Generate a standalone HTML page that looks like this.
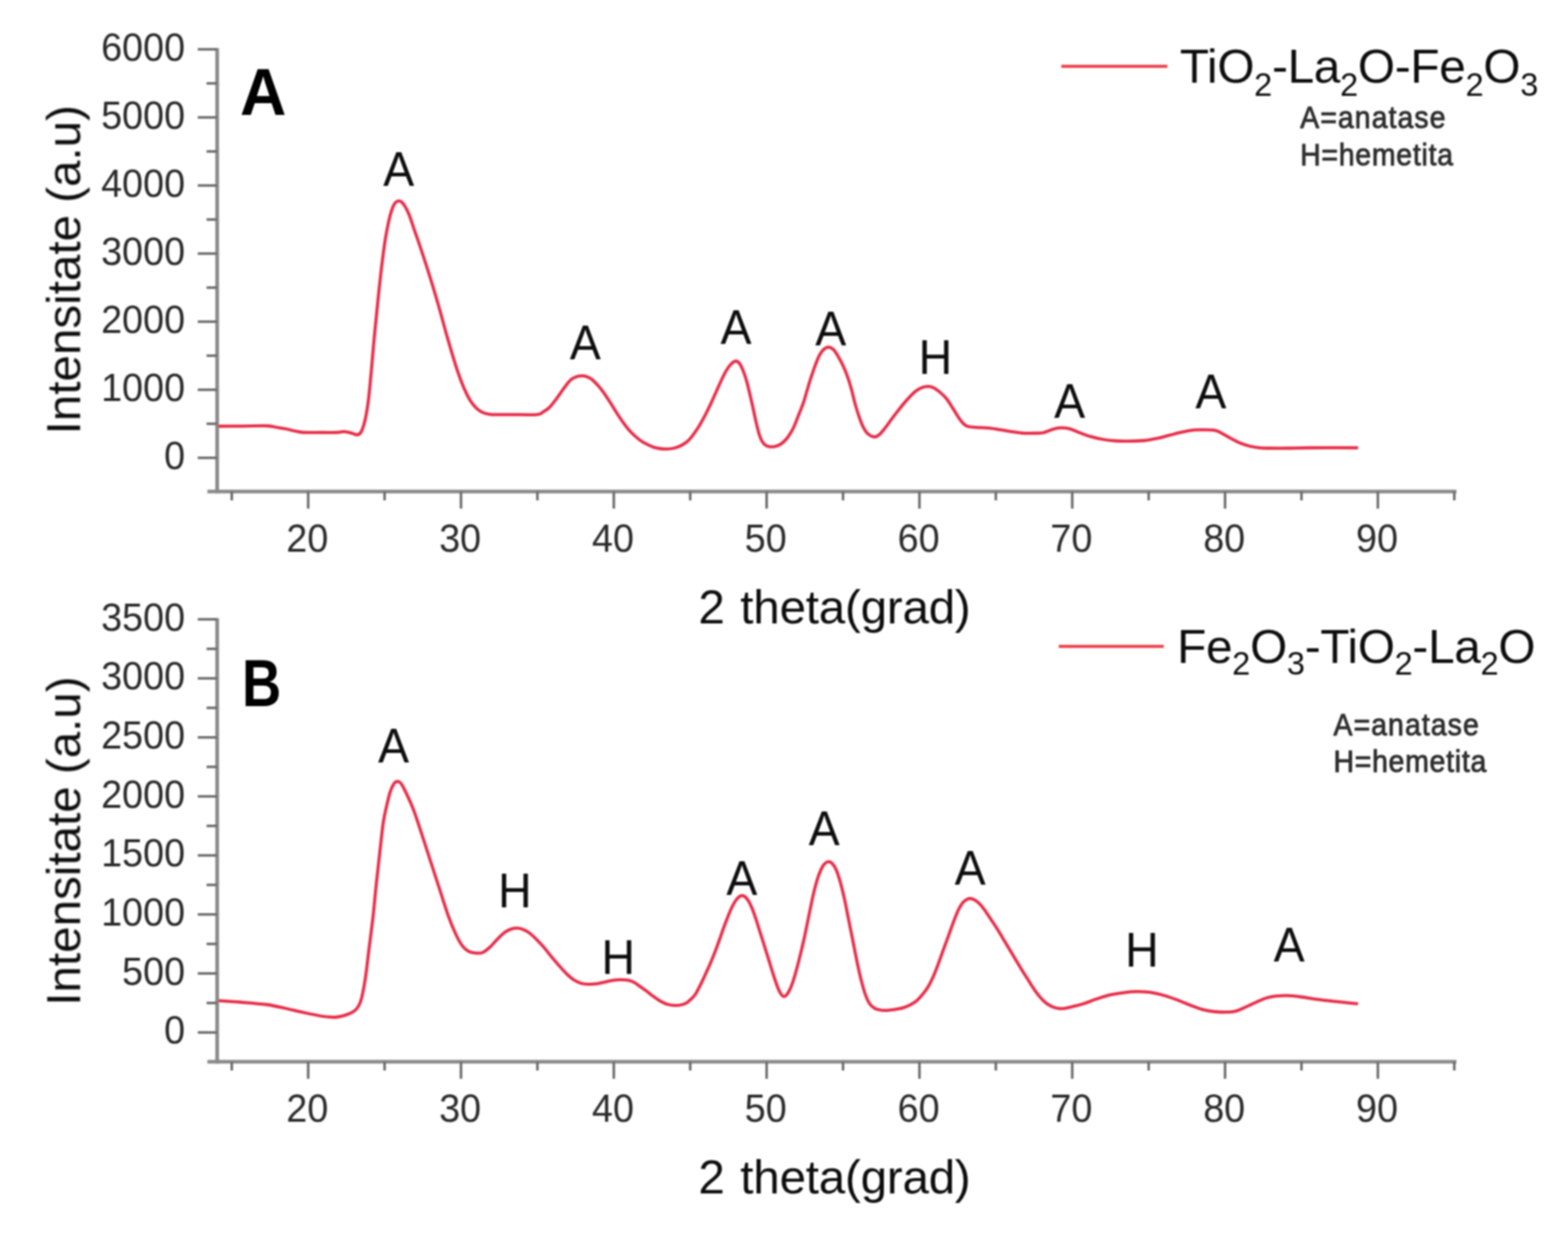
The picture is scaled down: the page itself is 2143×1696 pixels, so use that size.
<!DOCTYPE html>
<html lang="en">
<head>
<meta charset="utf-8">
<title>XRD patterns</title>
<style>
html,body{margin:0;padding:0;background:#fff;}
body{width:2143px;height:1696px;overflow:hidden;}
svg{display:block;}
text{font-family:"Liberation Sans", Arial, Helvetica, sans-serif;}
</style>
</head>
<body>
<svg width="2143" height="1696" viewBox="0 0 2143 1696" font-family='"Liberation Sans", Arial, Helvetica, sans-serif'>
<rect width="2143" height="1696" fill="#ffffff"/>
<defs><filter id="soft" x="0" y="0" width="100%" height="100%" filterUnits="userSpaceOnUse"><feGaussianBlur stdDeviation="0.9"/></filter></defs>
<g filter="url(#soft)">
<g id="chartA">
<line x1="296.8" y1="65.65" x2="296.8" y2="674.35" stroke="#8a8a8a" stroke-width="5.1"/>
<line x1="283.5" y1="671.8" x2="1990.5" y2="671.8" stroke="#8a8a8a" stroke-width="5.1"/>
<line x1="270.30" y1="67.40" x2="296.8" y2="67.40" stroke="#6c6c6c" stroke-width="3.5"/>
<text transform="translate(253 82.70) scale(0.965 1)" text-anchor="end" font-size="53.5" fill="#2c2c2c">6000</text>
<line x1="282.30" y1="113.93" x2="296.8" y2="113.93" stroke="#6c6c6c" stroke-width="3.5"/>
<line x1="270.30" y1="160.45" x2="296.8" y2="160.45" stroke="#6c6c6c" stroke-width="3.5"/>
<text transform="translate(253 175.75) scale(0.965 1)" text-anchor="end" font-size="53.5" fill="#2c2c2c">5000</text>
<line x1="282.30" y1="206.97" x2="296.8" y2="206.97" stroke="#6c6c6c" stroke-width="3.5"/>
<line x1="270.30" y1="253.50" x2="296.8" y2="253.50" stroke="#6c6c6c" stroke-width="3.5"/>
<text transform="translate(253 268.80) scale(0.965 1)" text-anchor="end" font-size="53.5" fill="#2c2c2c">4000</text>
<line x1="282.30" y1="300.02" x2="296.8" y2="300.02" stroke="#6c6c6c" stroke-width="3.5"/>
<line x1="270.30" y1="346.55" x2="296.8" y2="346.55" stroke="#6c6c6c" stroke-width="3.5"/>
<text transform="translate(253 361.85) scale(0.965 1)" text-anchor="end" font-size="53.5" fill="#2c2c2c">3000</text>
<line x1="282.30" y1="393.07" x2="296.8" y2="393.07" stroke="#6c6c6c" stroke-width="3.5"/>
<line x1="270.30" y1="439.60" x2="296.8" y2="439.60" stroke="#6c6c6c" stroke-width="3.5"/>
<text transform="translate(253 454.90) scale(0.965 1)" text-anchor="end" font-size="53.5" fill="#2c2c2c">2000</text>
<line x1="282.30" y1="486.12" x2="296.8" y2="486.12" stroke="#6c6c6c" stroke-width="3.5"/>
<line x1="270.30" y1="532.65" x2="296.8" y2="532.65" stroke="#6c6c6c" stroke-width="3.5"/>
<text transform="translate(253 547.95) scale(0.965 1)" text-anchor="end" font-size="53.5" fill="#2c2c2c">1000</text>
<line x1="282.30" y1="579.17" x2="296.8" y2="579.17" stroke="#6c6c6c" stroke-width="3.5"/>
<line x1="270.30" y1="625.70" x2="296.8" y2="625.70" stroke="#6c6c6c" stroke-width="3.5"/>
<text transform="translate(253 641.00) scale(0.965 1)" text-anchor="end" font-size="53.5" fill="#2c2c2c">0</text>
<line x1="316.77" y1="671.8" x2="316.77" y2="683.80" stroke="#6c6c6c" stroke-width="3.5"/>
<line x1="421.20" y1="671.8" x2="421.20" y2="695.10" stroke="#6c6c6c" stroke-width="3.5"/>
<text transform="translate(420.00 754.00) scale(0.965 1)" text-anchor="middle" font-size="53.5" fill="#2c2c2c">20</text>
<line x1="525.62" y1="671.8" x2="525.62" y2="683.80" stroke="#6c6c6c" stroke-width="3.5"/>
<line x1="630.05" y1="671.8" x2="630.05" y2="695.10" stroke="#6c6c6c" stroke-width="3.5"/>
<text transform="translate(628.85 754.00) scale(0.965 1)" text-anchor="middle" font-size="53.5" fill="#2c2c2c">30</text>
<line x1="734.47" y1="671.8" x2="734.47" y2="683.80" stroke="#6c6c6c" stroke-width="3.5"/>
<line x1="838.90" y1="671.8" x2="838.90" y2="695.10" stroke="#6c6c6c" stroke-width="3.5"/>
<text transform="translate(837.70 754.00) scale(0.965 1)" text-anchor="middle" font-size="53.5" fill="#2c2c2c">40</text>
<line x1="943.33" y1="671.8" x2="943.33" y2="683.80" stroke="#6c6c6c" stroke-width="3.5"/>
<line x1="1047.75" y1="671.8" x2="1047.75" y2="695.10" stroke="#6c6c6c" stroke-width="3.5"/>
<text transform="translate(1046.55 754.00) scale(0.965 1)" text-anchor="middle" font-size="53.5" fill="#2c2c2c">50</text>
<line x1="1152.17" y1="671.8" x2="1152.17" y2="683.80" stroke="#6c6c6c" stroke-width="3.5"/>
<line x1="1256.60" y1="671.8" x2="1256.60" y2="695.10" stroke="#6c6c6c" stroke-width="3.5"/>
<text transform="translate(1255.40 754.00) scale(0.965 1)" text-anchor="middle" font-size="53.5" fill="#2c2c2c">60</text>
<line x1="1361.02" y1="671.8" x2="1361.02" y2="683.80" stroke="#6c6c6c" stroke-width="3.5"/>
<line x1="1465.45" y1="671.8" x2="1465.45" y2="695.10" stroke="#6c6c6c" stroke-width="3.5"/>
<text transform="translate(1464.25 754.00) scale(0.965 1)" text-anchor="middle" font-size="53.5" fill="#2c2c2c">70</text>
<line x1="1569.88" y1="671.8" x2="1569.88" y2="683.80" stroke="#6c6c6c" stroke-width="3.5"/>
<line x1="1674.30" y1="671.8" x2="1674.30" y2="695.10" stroke="#6c6c6c" stroke-width="3.5"/>
<text transform="translate(1673.10 754.00) scale(0.965 1)" text-anchor="middle" font-size="53.5" fill="#2c2c2c">80</text>
<line x1="1778.72" y1="671.8" x2="1778.72" y2="683.80" stroke="#6c6c6c" stroke-width="3.5"/>
<line x1="1883.15" y1="671.8" x2="1883.15" y2="695.10" stroke="#6c6c6c" stroke-width="3.5"/>
<text transform="translate(1881.95 754.00) scale(0.965 1)" text-anchor="middle" font-size="53.5" fill="#2c2c2c">90</text>
<line x1="1987.58" y1="671.8" x2="1987.58" y2="683.80" stroke="#6c6c6c" stroke-width="3.5"/>
<text transform="translate(109.5 593.7) rotate(-90)" text-anchor="start" font-size="65" fill="#111111"><tspan>Intensitate</tspan><tspan dx="-1.5"> (a.u)</tspan></text>
<text x="1140.5" y="851.5" text-anchor="middle" font-size="65" fill="#111111" word-spacing="3.6" letter-spacing="-0.3">2 theta(grad)</text>
<path d="M298.50 582.50 C303.75 582.47 318.92 582.38 330.00 582.30 C341.08 582.22 357.00 581.72 365.00 582.00 C373.00 582.28 373.83 583.33 378.00 584.00 C382.17 584.67 385.83 585.17 390.00 586.00 C394.17 586.83 398.83 588.17 403.00 589.00 C407.17 589.83 408.83 590.67 415.00 591.00 C421.17 591.33 432.50 591.00 440.00 591.00 C447.50 591.00 454.90 591.20 460.00 591.00 C465.10 590.80 467.07 589.62 470.60 589.80 C474.13 589.98 478.20 591.37 481.20 592.10 C484.20 592.83 486.47 594.63 488.60 594.20 C490.73 593.77 492.22 593.12 494.00 589.50 C495.78 585.88 497.72 579.57 499.30 572.50 C500.88 565.43 502.10 558.42 503.50 547.10 C504.90 535.78 506.38 518.75 507.70 504.60 C509.02 490.45 510.08 476.33 511.40 462.20 C512.72 448.07 514.15 433.95 515.60 419.80 C517.05 405.65 518.47 391.45 520.10 377.30 C521.73 363.15 523.92 345.50 525.40 334.90 C526.88 324.30 527.70 320.42 529.00 313.70 C530.30 306.98 531.62 300.27 533.20 294.60 C534.78 288.93 536.55 283.03 538.50 279.70 C540.45 276.37 542.78 274.78 544.90 274.60 C547.02 274.42 548.90 275.63 551.20 278.60 C553.50 281.57 556.22 286.55 558.70 292.40 C561.18 298.25 563.63 306.62 566.10 313.70 C568.57 320.78 569.97 324.30 573.50 334.90 C577.03 345.50 582.88 363.15 587.30 377.30 C591.72 391.45 595.93 405.65 600.00 419.80 C604.07 433.95 607.62 448.07 611.70 462.20 C615.78 476.33 620.78 493.28 624.50 504.60 C628.22 515.92 631.00 523.02 634.00 530.10 C637.00 537.18 639.67 542.50 642.50 547.10 C645.33 551.70 648.17 554.95 651.00 557.70 C653.83 560.45 656.32 562.15 659.50 563.60 C662.68 565.05 666.57 565.88 670.10 566.40 C673.63 566.92 675.72 566.67 680.70 566.70 C685.68 566.73 691.18 566.62 700.00 566.60 C708.82 566.58 726.60 567.17 733.60 566.60 C740.60 566.03 739.20 564.73 742.00 563.20 C744.80 561.67 747.60 560.05 750.40 557.40 C753.20 554.75 756.00 550.95 758.80 547.30 C761.60 543.65 764.68 539.00 767.20 535.50 C769.72 532.00 771.67 529.10 773.90 526.30 C776.13 523.50 778.35 520.58 780.60 518.70 C782.85 516.82 784.88 515.83 787.40 515.00 C789.92 514.17 793.18 513.70 795.70 513.70 C798.22 513.70 800.25 514.17 802.50 515.00 C804.75 515.83 806.68 516.68 809.20 518.70 C811.72 520.72 815.08 524.30 817.60 527.10 C820.12 529.90 821.50 531.58 824.30 535.50 C827.10 539.42 831.32 545.83 834.40 550.60 C837.48 555.37 840.00 559.75 842.80 564.10 C845.60 568.45 848.40 572.78 851.20 576.70 C854.00 580.62 856.80 584.38 859.60 587.60 C862.40 590.82 865.20 593.48 868.00 596.00 C870.80 598.52 873.60 600.80 876.40 602.70 C879.20 604.60 882.00 606.00 884.80 607.40 C887.60 608.80 890.40 610.17 893.20 611.10 C896.00 612.03 898.80 612.58 901.60 613.00 C904.40 613.42 907.20 613.60 910.00 613.60 C912.80 613.60 915.60 613.47 918.40 613.00 C921.20 612.53 924.00 611.90 926.80 610.80 C929.60 609.70 932.68 608.03 935.20 606.40 C937.72 604.77 939.67 603.30 941.90 601.00 C944.13 598.70 946.37 595.68 948.60 592.60 C950.83 589.52 952.78 586.70 955.30 582.50 C957.82 578.30 961.18 572.15 963.70 567.40 C966.22 562.65 968.15 558.75 970.40 554.00 C972.65 549.25 974.67 544.50 977.20 538.90 C979.73 533.30 983.08 525.72 985.60 520.40 C988.12 515.08 990.07 510.78 992.30 507.00 C994.53 503.22 996.77 499.95 999.00 497.70 C1001.23 495.45 1003.73 493.63 1005.70 493.50 C1007.67 493.37 1009.12 494.65 1010.80 496.90 C1012.48 499.15 1014.13 502.80 1015.80 507.00 C1017.47 511.20 1018.83 514.83 1020.80 522.10 C1022.77 529.37 1025.35 540.80 1027.60 550.60 C1029.85 560.40 1032.35 572.92 1034.30 580.90 C1036.25 588.88 1037.62 594.17 1039.30 598.50 C1040.98 602.83 1042.45 604.93 1044.40 606.90 C1046.35 608.87 1048.67 609.73 1051.00 610.30 C1053.33 610.87 1055.77 610.83 1058.40 610.30 C1061.03 609.77 1064.00 608.90 1066.80 607.10 C1069.60 605.30 1072.68 602.45 1075.20 599.50 C1077.72 596.55 1080.08 592.48 1081.90 589.40 C1083.72 586.32 1084.42 584.92 1086.10 581.00 C1087.78 577.08 1090.03 570.93 1092.00 565.90 C1093.97 560.87 1096.08 556.12 1097.90 550.80 C1099.72 545.48 1101.22 539.60 1102.90 534.00 C1104.58 528.40 1106.18 522.80 1108.00 517.20 C1109.82 511.60 1111.85 505.58 1113.80 500.40 C1115.75 495.22 1117.73 489.88 1119.70 486.10 C1121.67 482.32 1123.50 479.65 1125.60 477.70 C1127.70 475.75 1130.07 474.40 1132.30 474.40 C1134.53 474.40 1136.90 475.75 1139.00 477.70 C1141.10 479.65 1142.65 482.32 1144.90 486.10 C1147.15 489.88 1150.12 495.22 1152.50 500.40 C1154.88 505.58 1157.25 511.60 1159.20 517.20 C1161.15 522.80 1162.67 528.40 1164.20 534.00 C1165.73 539.60 1166.85 545.20 1168.40 550.80 C1169.95 556.40 1171.68 562.28 1173.50 567.60 C1175.32 572.92 1177.20 578.50 1179.30 582.70 C1181.40 586.90 1183.57 590.42 1186.10 592.80 C1188.63 595.18 1191.98 596.72 1194.50 597.00 C1197.02 597.28 1198.68 596.50 1201.20 594.50 C1203.72 592.50 1206.80 588.50 1209.60 585.00 C1212.40 581.50 1215.20 577.25 1218.00 573.50 C1220.80 569.75 1223.60 566.08 1226.40 562.50 C1229.20 558.92 1232.00 555.33 1234.80 552.00 C1237.60 548.67 1240.40 545.42 1243.20 542.50 C1246.00 539.58 1248.80 536.63 1251.60 534.50 C1254.40 532.37 1257.20 530.77 1260.00 529.70 C1262.80 528.63 1265.60 528.00 1268.40 528.10 C1271.20 528.20 1274.00 528.90 1276.80 530.30 C1279.60 531.70 1282.40 534.07 1285.20 536.50 C1288.00 538.93 1290.80 541.40 1293.60 544.90 C1296.40 548.40 1299.20 553.17 1302.00 557.50 C1304.80 561.83 1307.88 567.27 1310.40 570.90 C1312.92 574.53 1314.87 577.28 1317.10 579.30 C1319.33 581.32 1320.72 582.20 1323.80 583.00 C1326.88 583.80 1330.83 583.73 1335.60 584.10 C1340.37 584.47 1346.80 584.60 1352.40 585.20 C1358.00 585.80 1363.60 586.85 1369.20 587.70 C1374.80 588.55 1380.87 589.57 1386.00 590.30 C1391.13 591.03 1395.67 591.82 1400.00 592.10 C1404.33 592.38 1407.80 592.10 1412.00 592.00 C1416.20 591.90 1421.03 592.27 1425.20 591.50 C1429.37 590.73 1433.37 588.52 1437.00 587.40 C1440.63 586.28 1443.08 585.08 1447.00 584.80 C1450.92 584.52 1456.02 584.72 1460.50 585.70 C1464.98 586.68 1468.87 588.88 1473.90 590.70 C1478.93 592.52 1485.10 594.97 1490.70 596.60 C1496.30 598.23 1501.90 599.52 1507.50 600.50 C1513.10 601.48 1518.42 602.12 1524.30 602.50 C1530.18 602.88 1536.08 602.88 1542.80 602.80 C1549.52 602.72 1558.17 602.62 1564.60 602.00 C1571.03 601.38 1575.80 600.28 1581.40 599.10 C1587.00 597.92 1592.60 596.30 1598.20 594.90 C1603.80 593.50 1609.40 591.90 1615.00 590.70 C1620.60 589.50 1626.75 588.25 1631.80 587.70 C1636.85 587.15 1640.53 587.32 1645.30 587.40 C1650.07 587.48 1656.48 587.50 1660.40 588.20 C1664.32 588.90 1665.17 589.78 1668.80 591.60 C1672.43 593.42 1677.73 596.73 1682.20 599.10 C1686.67 601.47 1691.12 603.98 1695.60 605.80 C1700.08 607.62 1704.62 608.93 1709.10 610.00 C1713.58 611.07 1718.02 611.78 1722.50 612.20 C1726.98 612.62 1729.75 612.45 1736.00 612.50 C1742.25 612.55 1751.00 612.58 1760.00 612.50 C1769.00 612.42 1774.00 612.08 1790.00 612.00 C1806.00 611.92 1845.00 612.00 1856.00 612.00" fill="none" stroke="#e72e49" stroke-width="4.3" stroke-linejoin="round" stroke-linecap="butt"/>
<text transform="translate(359.7 156.6) scale(0.975 1)" text-anchor="middle" font-size="90" font-weight="bold" fill="#000">A</text>
<text transform="translate(545 254) scale(1 1.05)" text-anchor="middle" font-size="63.5" fill="#0a0a0a">A</text>
<text transform="translate(800 491) scale(1 1.05)" text-anchor="middle" font-size="63.5" fill="#0a0a0a">A</text>
<text transform="translate(1006 470) scale(1 1.05)" text-anchor="middle" font-size="63.5" fill="#0a0a0a">A</text>
<text transform="translate(1135.5 472) scale(1 1.05)" text-anchor="middle" font-size="63.5" fill="#0a0a0a">A</text>
<text transform="translate(1278.5 511) scale(1 1.05)" text-anchor="middle" font-size="63.5" fill="#0a0a0a">H</text>
<text transform="translate(1462 571) scale(1 1.05)" text-anchor="middle" font-size="63.5" fill="#0a0a0a">A</text>
<text transform="translate(1655 557.5) scale(1 1.05)" text-anchor="middle" font-size="63.5" fill="#0a0a0a">A</text>
<line x1="1450.5" y1="90.6" x2="1595.5" y2="90.6" stroke="#ea4048" stroke-width="4.2"/>
<text x="1612.5" y="112.5" font-size="65.4" fill="#111111" letter-spacing="-0.45"><tspan>TiO</tspan><tspan dy="18.6" font-size="44.5">2</tspan><tspan dy="-18.6">-La</tspan><tspan dy="18.6" font-size="44.5">2</tspan><tspan dy="-18.6">O-Fe</tspan><tspan dy="18.6" font-size="44.5">2</tspan><tspan dy="-18.6">O</tspan><tspan dy="18.6" font-size="44.5">3</tspan></text>
<text transform="translate(1777 174.8) scale(0.925 1)" font-size="42" fill="#2e2e2e" stroke="#2e2e2e" stroke-width="1.2" stroke-linejoin="round" letter-spacing="1.6">A=anatase</text>
<text transform="translate(1777 226.0) scale(0.925 1)" font-size="42" fill="#2e2e2e" stroke="#2e2e2e" stroke-width="1.2" stroke-linejoin="round" letter-spacing="1.1">H=hemetita</text>
</g>
<g id="chartB">
<line x1="296.8" y1="844.65" x2="296.8" y2="1453.55" stroke="#8a8a8a" stroke-width="5.1"/>
<line x1="283.5" y1="1451.0" x2="1990.5" y2="1451.0" stroke="#8a8a8a" stroke-width="5.1"/>
<line x1="270.30" y1="846.40" x2="296.8" y2="846.40" stroke="#6c6c6c" stroke-width="3.5"/>
<text transform="translate(253 861.70) scale(0.965 1)" text-anchor="end" font-size="53.5" fill="#2c2c2c">3500</text>
<line x1="282.30" y1="886.73" x2="296.8" y2="886.73" stroke="#6c6c6c" stroke-width="3.5"/>
<line x1="270.30" y1="927.06" x2="296.8" y2="927.06" stroke="#6c6c6c" stroke-width="3.5"/>
<text transform="translate(253 942.36) scale(0.965 1)" text-anchor="end" font-size="53.5" fill="#2c2c2c">3000</text>
<line x1="282.30" y1="967.39" x2="296.8" y2="967.39" stroke="#6c6c6c" stroke-width="3.5"/>
<line x1="270.30" y1="1007.72" x2="296.8" y2="1007.72" stroke="#6c6c6c" stroke-width="3.5"/>
<text transform="translate(253 1023.02) scale(0.965 1)" text-anchor="end" font-size="53.5" fill="#2c2c2c">2500</text>
<line x1="282.30" y1="1048.05" x2="296.8" y2="1048.05" stroke="#6c6c6c" stroke-width="3.5"/>
<line x1="270.30" y1="1088.38" x2="296.8" y2="1088.38" stroke="#6c6c6c" stroke-width="3.5"/>
<text transform="translate(253 1103.68) scale(0.965 1)" text-anchor="end" font-size="53.5" fill="#2c2c2c">2000</text>
<line x1="282.30" y1="1128.71" x2="296.8" y2="1128.71" stroke="#6c6c6c" stroke-width="3.5"/>
<line x1="270.30" y1="1169.04" x2="296.8" y2="1169.04" stroke="#6c6c6c" stroke-width="3.5"/>
<text transform="translate(253 1184.34) scale(0.965 1)" text-anchor="end" font-size="53.5" fill="#2c2c2c">1500</text>
<line x1="282.30" y1="1209.37" x2="296.8" y2="1209.37" stroke="#6c6c6c" stroke-width="3.5"/>
<line x1="270.30" y1="1249.70" x2="296.8" y2="1249.70" stroke="#6c6c6c" stroke-width="3.5"/>
<text transform="translate(253 1265.00) scale(0.965 1)" text-anchor="end" font-size="53.5" fill="#2c2c2c">1000</text>
<line x1="282.30" y1="1290.03" x2="296.8" y2="1290.03" stroke="#6c6c6c" stroke-width="3.5"/>
<line x1="270.30" y1="1330.36" x2="296.8" y2="1330.36" stroke="#6c6c6c" stroke-width="3.5"/>
<text transform="translate(253 1345.66) scale(0.965 1)" text-anchor="end" font-size="53.5" fill="#2c2c2c">500</text>
<line x1="282.30" y1="1370.69" x2="296.8" y2="1370.69" stroke="#6c6c6c" stroke-width="3.5"/>
<line x1="270.30" y1="1411.02" x2="296.8" y2="1411.02" stroke="#6c6c6c" stroke-width="3.5"/>
<text transform="translate(253 1426.32) scale(0.965 1)" text-anchor="end" font-size="53.5" fill="#2c2c2c">0</text>
<line x1="316.77" y1="1451.0" x2="316.77" y2="1463.00" stroke="#6c6c6c" stroke-width="3.5"/>
<line x1="421.20" y1="1451.0" x2="421.20" y2="1474.30" stroke="#6c6c6c" stroke-width="3.5"/>
<text transform="translate(420.00 1532.60) scale(0.965 1)" text-anchor="middle" font-size="53.5" fill="#2c2c2c">20</text>
<line x1="525.62" y1="1451.0" x2="525.62" y2="1463.00" stroke="#6c6c6c" stroke-width="3.5"/>
<line x1="630.05" y1="1451.0" x2="630.05" y2="1474.30" stroke="#6c6c6c" stroke-width="3.5"/>
<text transform="translate(628.85 1532.60) scale(0.965 1)" text-anchor="middle" font-size="53.5" fill="#2c2c2c">30</text>
<line x1="734.47" y1="1451.0" x2="734.47" y2="1463.00" stroke="#6c6c6c" stroke-width="3.5"/>
<line x1="838.90" y1="1451.0" x2="838.90" y2="1474.30" stroke="#6c6c6c" stroke-width="3.5"/>
<text transform="translate(837.70 1532.60) scale(0.965 1)" text-anchor="middle" font-size="53.5" fill="#2c2c2c">40</text>
<line x1="943.33" y1="1451.0" x2="943.33" y2="1463.00" stroke="#6c6c6c" stroke-width="3.5"/>
<line x1="1047.75" y1="1451.0" x2="1047.75" y2="1474.30" stroke="#6c6c6c" stroke-width="3.5"/>
<text transform="translate(1046.55 1532.60) scale(0.965 1)" text-anchor="middle" font-size="53.5" fill="#2c2c2c">50</text>
<line x1="1152.17" y1="1451.0" x2="1152.17" y2="1463.00" stroke="#6c6c6c" stroke-width="3.5"/>
<line x1="1256.60" y1="1451.0" x2="1256.60" y2="1474.30" stroke="#6c6c6c" stroke-width="3.5"/>
<text transform="translate(1255.40 1532.60) scale(0.965 1)" text-anchor="middle" font-size="53.5" fill="#2c2c2c">60</text>
<line x1="1361.02" y1="1451.0" x2="1361.02" y2="1463.00" stroke="#6c6c6c" stroke-width="3.5"/>
<line x1="1465.45" y1="1451.0" x2="1465.45" y2="1474.30" stroke="#6c6c6c" stroke-width="3.5"/>
<text transform="translate(1464.25 1532.60) scale(0.965 1)" text-anchor="middle" font-size="53.5" fill="#2c2c2c">70</text>
<line x1="1569.88" y1="1451.0" x2="1569.88" y2="1463.00" stroke="#6c6c6c" stroke-width="3.5"/>
<line x1="1674.30" y1="1451.0" x2="1674.30" y2="1474.30" stroke="#6c6c6c" stroke-width="3.5"/>
<text transform="translate(1673.10 1532.60) scale(0.965 1)" text-anchor="middle" font-size="53.5" fill="#2c2c2c">80</text>
<line x1="1778.72" y1="1451.0" x2="1778.72" y2="1463.00" stroke="#6c6c6c" stroke-width="3.5"/>
<line x1="1883.15" y1="1451.0" x2="1883.15" y2="1474.30" stroke="#6c6c6c" stroke-width="3.5"/>
<text transform="translate(1881.95 1532.60) scale(0.965 1)" text-anchor="middle" font-size="53.5" fill="#2c2c2c">90</text>
<line x1="1987.58" y1="1451.0" x2="1987.58" y2="1463.00" stroke="#6c6c6c" stroke-width="3.5"/>
<text transform="translate(109.5 1374.5) rotate(-90)" text-anchor="start" font-size="65" fill="#111111"><tspan>Intensitate</tspan><tspan dx="-1.5"> (a.u)</tspan></text>
<text x="1140.5" y="1631" text-anchor="middle" font-size="65" fill="#111111" word-spacing="3.6" letter-spacing="-0.3">2 theta(grad)</text>
<path d="M298.50 1367.50 C303.33 1367.83 316.42 1368.58 327.50 1369.50 C338.58 1370.42 354.58 1371.58 365.00 1373.00 C375.42 1374.42 381.67 1376.21 390.00 1378.00 C398.33 1379.79 406.67 1381.96 415.00 1383.75 C423.33 1385.54 433.75 1387.71 440.00 1388.75 C446.25 1389.79 449.17 1389.79 452.50 1390.00 C455.83 1390.21 456.63 1390.48 460.00 1390.00 C463.37 1389.52 468.80 1388.38 472.70 1387.10 C476.60 1385.82 480.57 1384.23 483.40 1382.30 C486.23 1380.37 487.93 1378.42 489.70 1375.50 C491.47 1372.58 492.40 1371.18 494.00 1364.80 C495.60 1358.42 497.53 1348.87 499.30 1337.20 C501.07 1325.53 502.83 1308.95 504.60 1294.80 C506.37 1280.65 508.32 1266.45 509.90 1252.30 C511.48 1238.15 512.62 1224.05 514.10 1209.90 C515.58 1195.75 517.20 1181.57 518.80 1167.40 C520.40 1153.23 522.18 1135.52 523.70 1124.90 C525.22 1114.28 526.32 1110.77 527.90 1103.70 C529.48 1096.63 531.42 1087.98 533.20 1082.50 C534.98 1077.02 536.93 1073.25 538.60 1070.80 C540.27 1068.35 541.62 1067.80 543.20 1067.80 C544.78 1067.80 546.22 1068.35 548.10 1070.80 C549.98 1073.25 551.85 1077.02 554.50 1082.50 C557.15 1087.98 561.17 1096.63 564.00 1103.70 C566.83 1110.77 567.95 1114.28 571.50 1124.90 C575.05 1135.52 580.70 1153.23 585.30 1167.40 C589.90 1181.57 594.50 1195.75 599.10 1209.90 C603.70 1224.05 608.83 1240.98 612.90 1252.30 C616.97 1263.62 620.32 1271.07 623.50 1277.80 C626.68 1284.53 629.17 1288.98 632.00 1292.70 C634.83 1296.42 637.32 1298.45 640.50 1300.10 C643.68 1301.75 647.85 1302.35 651.10 1302.60 C654.35 1302.85 656.82 1303.05 660.00 1301.60 C663.18 1300.15 666.82 1297.00 670.20 1293.90 C673.58 1290.80 676.93 1286.35 680.30 1283.00 C683.67 1279.65 687.32 1276.03 690.40 1273.80 C693.48 1271.57 696.00 1270.50 698.80 1269.60 C701.60 1268.70 704.40 1268.27 707.20 1268.40 C710.00 1268.53 712.80 1269.23 715.60 1270.40 C718.40 1271.57 720.92 1273.02 724.00 1275.40 C727.08 1277.78 730.73 1281.33 734.10 1284.70 C737.47 1288.07 740.85 1291.68 744.20 1295.60 C747.55 1299.52 750.85 1304.15 754.20 1308.20 C757.55 1312.25 760.93 1316.12 764.30 1319.90 C767.67 1323.68 771.03 1327.67 774.40 1330.90 C777.77 1334.13 781.13 1337.12 784.50 1339.30 C787.87 1341.48 791.25 1343.03 794.60 1344.00 C797.95 1344.97 800.97 1345.05 804.60 1345.10 C808.23 1345.15 812.48 1344.85 816.40 1344.30 C820.32 1343.75 824.47 1342.58 828.10 1341.80 C831.73 1341.02 834.83 1340.10 838.20 1339.60 C841.57 1339.10 844.93 1338.80 848.30 1338.80 C851.67 1338.80 855.32 1338.97 858.40 1339.60 C861.48 1340.23 864.00 1341.12 866.80 1342.60 C869.60 1344.08 872.40 1346.53 875.20 1348.50 C878.00 1350.47 880.80 1352.30 883.60 1354.40 C886.40 1356.50 888.93 1358.87 892.00 1361.10 C895.07 1363.33 898.65 1365.90 902.00 1367.80 C905.35 1369.70 908.45 1371.43 912.10 1372.50 C915.75 1373.57 920.25 1374.20 923.90 1374.20 C927.55 1374.20 931.32 1373.30 934.00 1372.50 C936.68 1371.70 938.17 1370.67 940.00 1369.40 C941.83 1368.13 943.33 1366.57 945.00 1364.90 C946.67 1363.23 948.33 1361.82 950.00 1359.40 C951.67 1356.98 953.32 1353.58 955.00 1350.40 C956.68 1347.22 958.42 1343.82 960.10 1340.30 C961.78 1336.78 963.43 1332.97 965.10 1329.30 C966.77 1325.63 968.43 1322.15 970.10 1318.30 C971.77 1314.45 973.43 1310.38 975.10 1306.20 C976.77 1302.02 978.43 1297.70 980.10 1293.20 C981.77 1288.70 983.43 1283.88 985.10 1279.20 C986.77 1274.52 988.43 1269.62 990.10 1265.10 C991.77 1260.58 993.42 1256.27 995.10 1252.10 C996.78 1247.93 998.52 1243.60 1000.20 1240.10 C1001.88 1236.60 1003.53 1233.53 1005.20 1231.10 C1006.87 1228.67 1008.70 1226.68 1010.20 1225.50 C1011.70 1224.32 1012.87 1224.00 1014.20 1224.00 C1015.53 1224.00 1016.70 1224.23 1018.20 1225.50 C1019.70 1226.77 1021.53 1228.83 1023.20 1231.60 C1024.87 1234.37 1026.53 1238.02 1028.20 1242.10 C1029.87 1246.18 1031.53 1251.08 1033.20 1256.10 C1034.87 1261.12 1036.52 1266.85 1038.20 1272.20 C1039.88 1277.55 1041.62 1282.87 1043.30 1288.20 C1044.98 1293.53 1046.63 1298.85 1048.30 1304.20 C1049.97 1309.55 1051.63 1314.95 1053.30 1320.30 C1054.97 1325.65 1056.63 1331.28 1058.30 1336.30 C1059.97 1341.32 1061.80 1346.72 1063.30 1350.40 C1064.80 1354.08 1065.97 1356.48 1067.30 1358.40 C1068.63 1360.32 1069.97 1361.73 1071.30 1361.90 C1072.63 1362.07 1073.78 1361.32 1075.30 1359.40 C1076.82 1357.48 1078.72 1354.25 1080.40 1350.40 C1082.08 1346.55 1083.73 1341.65 1085.40 1336.30 C1087.07 1330.95 1088.73 1324.65 1090.40 1318.30 C1092.07 1311.95 1093.80 1304.88 1095.40 1298.20 C1097.00 1291.52 1098.00 1287.55 1100.00 1278.20 C1102.00 1268.85 1105.23 1252.37 1107.40 1242.10 C1109.57 1231.83 1111.12 1224.15 1113.00 1216.60 C1114.88 1209.05 1116.82 1202.22 1118.70 1196.80 C1120.58 1191.38 1122.65 1187.05 1124.30 1184.10 C1125.95 1181.15 1127.18 1180.17 1128.60 1179.10 C1130.02 1178.03 1131.38 1177.58 1132.80 1177.70 C1134.22 1177.82 1135.45 1178.03 1137.10 1179.80 C1138.75 1181.57 1140.82 1184.05 1142.70 1188.30 C1144.58 1192.55 1146.52 1198.70 1148.40 1205.30 C1150.28 1211.90 1152.12 1219.42 1154.00 1227.90 C1155.88 1236.38 1157.80 1246.77 1159.70 1256.20 C1161.60 1265.63 1163.52 1275.07 1165.40 1284.50 C1167.28 1293.93 1169.12 1303.83 1171.00 1312.80 C1172.88 1321.77 1174.82 1330.75 1176.70 1338.30 C1178.58 1345.85 1180.42 1352.68 1182.30 1358.10 C1184.18 1363.52 1185.87 1367.50 1188.00 1370.80 C1190.13 1374.10 1192.50 1376.28 1195.10 1377.90 C1197.70 1379.52 1200.78 1380.02 1203.60 1380.50 C1206.42 1380.98 1209.10 1380.90 1212.00 1380.80 C1214.90 1380.70 1217.17 1380.52 1221.00 1379.90 C1224.83 1379.28 1231.03 1378.27 1235.00 1377.10 C1238.97 1375.93 1241.77 1374.53 1244.80 1372.90 C1247.83 1371.27 1250.40 1369.75 1253.20 1367.30 C1256.00 1364.85 1259.03 1361.35 1261.60 1358.20 C1264.17 1355.05 1266.27 1352.37 1268.60 1348.40 C1270.93 1344.43 1273.50 1339.07 1275.60 1334.40 C1277.70 1329.73 1279.33 1325.30 1281.20 1320.40 C1283.07 1315.50 1284.93 1310.13 1286.80 1305.00 C1288.67 1299.87 1290.53 1294.73 1292.40 1289.60 C1294.27 1284.47 1296.13 1279.33 1298.00 1274.20 C1299.87 1269.07 1301.73 1263.70 1303.60 1258.80 C1305.47 1253.90 1307.33 1248.77 1309.20 1244.80 C1311.07 1240.83 1312.93 1237.52 1314.80 1235.00 C1316.67 1232.48 1318.53 1230.87 1320.40 1229.70 C1322.27 1228.53 1324.13 1228.00 1326.00 1228.00 C1327.87 1228.00 1329.50 1228.53 1331.60 1229.70 C1333.70 1230.87 1336.27 1232.72 1338.60 1235.00 C1340.93 1237.28 1343.03 1239.90 1345.60 1243.40 C1348.17 1246.90 1351.20 1251.80 1354.00 1256.00 C1356.80 1260.20 1359.60 1264.17 1362.40 1268.60 C1365.20 1273.03 1368.00 1277.93 1370.80 1282.60 C1373.60 1287.27 1376.40 1291.93 1379.20 1296.60 C1382.00 1301.27 1384.80 1305.93 1387.60 1310.60 C1390.40 1315.27 1393.20 1320.05 1396.00 1324.60 C1398.80 1329.15 1401.60 1333.47 1404.40 1337.90 C1407.20 1342.33 1410.00 1347.12 1412.80 1351.20 C1415.60 1355.28 1418.40 1359.13 1421.20 1362.40 C1424.00 1365.67 1426.80 1368.58 1429.60 1370.80 C1432.40 1373.02 1435.20 1374.48 1438.00 1375.70 C1440.80 1376.92 1443.60 1377.70 1446.40 1378.10 C1449.20 1378.50 1451.53 1378.50 1454.80 1378.10 C1458.07 1377.70 1461.80 1376.72 1466.00 1375.70 C1470.20 1374.68 1474.55 1373.73 1480.00 1372.00 C1485.45 1370.27 1492.48 1367.35 1498.70 1365.30 C1504.92 1363.25 1511.08 1361.15 1517.30 1359.70 C1523.52 1358.25 1529.77 1357.35 1536.00 1356.60 C1542.23 1355.85 1548.48 1355.23 1554.70 1355.20 C1560.92 1355.17 1567.08 1355.48 1573.30 1356.40 C1579.52 1357.32 1585.77 1358.90 1592.00 1360.70 C1598.23 1362.50 1604.48 1364.87 1610.70 1367.20 C1616.92 1369.53 1623.70 1372.58 1629.30 1374.70 C1634.90 1376.82 1639.32 1378.60 1644.30 1379.90 C1649.28 1381.20 1654.23 1381.95 1659.20 1382.50 C1664.17 1383.05 1669.12 1383.32 1674.10 1383.20 C1679.08 1383.08 1684.12 1383.07 1689.10 1381.80 C1694.08 1380.53 1699.03 1377.78 1704.00 1375.60 C1708.97 1373.42 1714.23 1370.72 1718.90 1368.70 C1723.57 1366.68 1727.65 1364.75 1732.00 1363.50 C1736.35 1362.25 1740.33 1361.67 1745.00 1361.20 C1749.67 1360.73 1754.38 1360.48 1760.00 1360.70 C1765.62 1360.92 1772.48 1361.73 1778.70 1362.50 C1784.92 1363.27 1791.08 1364.45 1797.30 1365.30 C1803.52 1366.15 1809.77 1366.88 1816.00 1367.60 C1822.23 1368.32 1828.03 1368.88 1834.70 1369.60 C1841.37 1370.32 1852.45 1371.52 1856.00 1371.90" fill="none" stroke="#e72e49" stroke-width="4.3" stroke-linejoin="round" stroke-linecap="butt"/>
<text transform="translate(357.6 964.8) scale(0.825 1)" text-anchor="middle" font-size="90" font-weight="bold" fill="#000">B</text>
<text transform="translate(538 1042) scale(1 1.05)" text-anchor="middle" font-size="63.5" fill="#0a0a0a">A</text>
<text transform="translate(703.75 1240) scale(1 1.05)" text-anchor="middle" font-size="63.5" fill="#0a0a0a">H</text>
<text transform="translate(845 1331) scale(1 1.05)" text-anchor="middle" font-size="63.5" fill="#0a0a0a">H</text>
<text transform="translate(1014 1222.5) scale(1 1.05)" text-anchor="middle" font-size="63.5" fill="#0a0a0a">A</text>
<text transform="translate(1126.5 1155) scale(1 1.05)" text-anchor="middle" font-size="63.5" fill="#0a0a0a">A</text>
<text transform="translate(1326 1209) scale(1 1.05)" text-anchor="middle" font-size="63.5" fill="#0a0a0a">A</text>
<text transform="translate(1560.75 1321) scale(1 1.05)" text-anchor="middle" font-size="63.5" fill="#0a0a0a">H</text>
<text transform="translate(1762 1314) scale(1 1.05)" text-anchor="middle" font-size="63.5" fill="#0a0a0a">A</text>
<line x1="1447" y1="883.4" x2="1590.5" y2="883.4" stroke="#ea4048" stroke-width="4.2"/>
<text x="1608.7" y="905.5" font-size="65.4" fill="#111111" letter-spacing="-0.45"><tspan>Fe</tspan><tspan dy="16.8" font-size="44.5">2</tspan><tspan dy="-16.8">O</tspan><tspan dy="16.8" font-size="44.5">3</tspan><tspan dy="-16.8">-TiO</tspan><tspan dy="16.8" font-size="44.5">2</tspan><tspan dy="-16.8">-La</tspan><tspan dy="16.8" font-size="44.5">2</tspan><tspan dy="-16.8">O</tspan></text>
<text transform="translate(1822.5 1005.4) scale(0.925 1)" font-size="42" fill="#2e2e2e" stroke="#2e2e2e" stroke-width="1.2" stroke-linejoin="round" letter-spacing="1.6">A=anatase</text>
<text transform="translate(1822.5 1055.0) scale(0.925 1)" font-size="42" fill="#2e2e2e" stroke="#2e2e2e" stroke-width="1.2" stroke-linejoin="round" letter-spacing="1.1">H=hemetita</text>
</g>
</g>
</svg>
</body>
</html>
